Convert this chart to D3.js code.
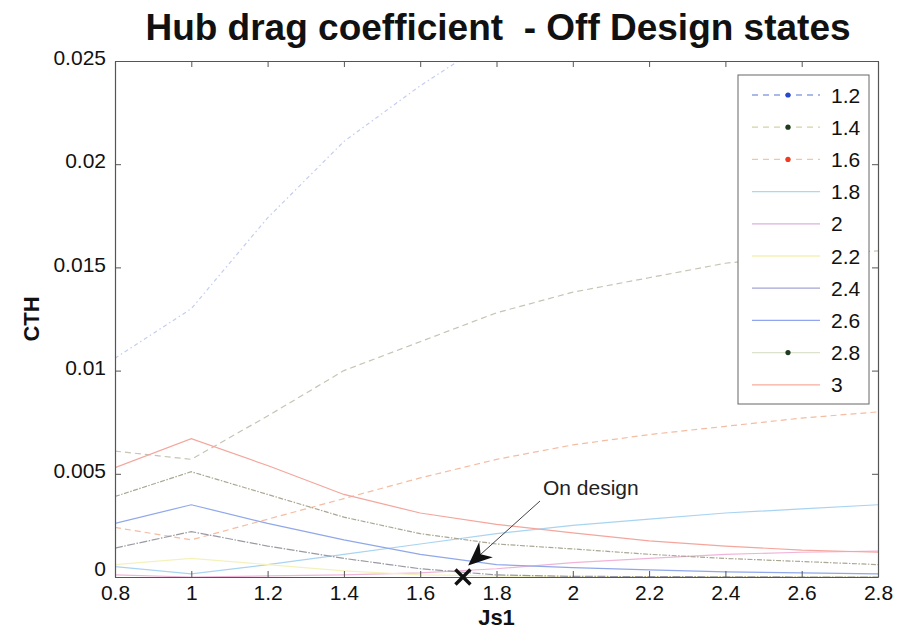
<!DOCTYPE html>
<html>
<head>
<meta charset="utf-8">
<script src="https://cdn.jsdelivr.net/npm/d3@7"></script>
<style>
  html, body { margin: 0; padding: 0; background: #fff; }
  svg { display: block; font-family: "Liberation Sans", Arial, sans-serif; }
</style>
</head>
<body>
<svg id="chart" width="899" height="641"></svg>
<script>
// Advance ratio Js1 sample points
const js1 = [0.8, 1.0, 1.2, 1.4, 1.6, 1.8, 2.0, 2.2, 2.4, 2.6, 2.8];

// Off-design state labels
const states = ["1.2", "1.4", "1.6", "1.8", "2", "2.2", "2.4", "2.6", "2.8", "3"];

// CTH per state (null = off the top of the axes)
const cth_12 = [0.0106, 0.0130, 0.0174, 0.0211, 0.0238, 0.0262, null, null, null, null, null];
const cth_14 = [0.0061, 0.0057, 0.0078, 0.0100, 0.0114, 0.0128, 0.0138, 0.0145, 0.0152, 0.0156, 0.0158];
const cth_16 = [0.0024, 0.0018, 0.0028, 0.0038, 0.0048, 0.0057, 0.0064, 0.0069, 0.0073, 0.0077, 0.0080];
const cth_18 = [0.0005, 0.00015, 0.0006, 0.0011, 0.0016, 0.0021, 0.0025, 0.0028, 0.0031, 0.0033, 0.0035];
const cth_20 = [0.0001, 0.0, 0.00005, 0.0001, 0.0002, 0.0004, 0.0007, 0.0009, 0.0011, 0.0012, 0.00125];
const cth_22 = [0.0006, 0.0009, 0.0006, 0.0003, 0.0001, 0.00005, 0.00003, 0.00002, 0.00001, 0.0, 0.0];
const cth_24 = [0.0014, 0.0022, 0.0015, 0.0009, 0.0004, 0.0001, 0.00003, 0.00002, 0.00001, 0.0, 0.0];
const cth_26 = [0.0026, 0.0035, 0.0026, 0.0018, 0.0011, 0.0006, 0.00045, 0.00035, 0.00025, 0.0002, 0.00015];
const cth_28 = [0.0039, 0.0051, 0.0040, 0.0029, 0.0021, 0.0016, 0.00136, 0.0011, 0.0009, 0.00075, 0.0006];
const cth_30 = [0.0053, 0.0067, 0.0054, 0.0040, 0.0031, 0.00255, 0.00214, 0.00175, 0.0015, 0.0013, 0.0012];

const seriesValues = [cth_12, cth_14, cth_16, cth_18, cth_20, cth_22, cth_24, cth_26, cth_28, cth_30];

// Design point
const designJs1 = [1.712];
const designCth = [0.0];

// Axis tick values
const xTicks = [0.8, 1, 1.2, 1.4, 1.6, 1.8, 2, 2.2, 2.4, 2.6, 2.8];
const yTicks = [0, 0.005, 0.01, 0.015, 0.02, 0.025];

// Line styles: plot colour, legend colour, dash pattern, marker colour
const styles = [
  { line: "#c4cdf0", key: "#8fa2e2", dash: "4,3,1.5,3", dot: "#2a48c8" },
  { line: "#c6c4b4", key: "#d4d3a6", dash: "6,4", dot: "#1e3c1e" },
  { line: "#f4bca2", key: "#f3c79a", dash: "6,4", dot: "#f23a22" },
  { line: "#a8d4f2", key: "#a8d8f4", dash: null, dot: null },
  { line: "#f0b4d8", key: "#dcb0dc", dash: null, dot: null },
  { line: "#f4f2bc", key: "#f4f0b4", dash: null, dot: null },
  { line: "#9a9aa4", key: "#a4a4d8", dash: "8,1.5,1.5,1.5", dot: null },
  { line: "#90a8ea", key: "#92a4f0", dash: null, dot: null },
  { line: "#aaa894", key: "#dde2cc", dash: "5,1.5,1.5,1.5", dot: "#1e3c1e" },
  { line: "#f4a69c", key: "#f4ad9e", dash: null, dot: null }
];

const svg = d3.select("#chart");
const plotL = 115, plotR = 878, plotT = 61, plotB = 577;

const x = d3.scaleLinear().domain([0.8, 2.8]).range([plotL, plotR]);
const y = d3.scaleLinear().domain([0, 0.025]).range([plotB, plotT]);

const fmt = v => String(+v.toFixed(3));
const axisColor = "#555";

// Clip region for the curves
const defs = svg.append("defs");
defs.append("clipPath").attr("id", "plotClip")
  .append("rect").attr("x", plotL).attr("y", plotT)
  .attr("width", plotR - plotL).attr("height", plotB - plotT);

// Curves
const line = d3.line()
  .defined(d => d[1] !== null)
  .x(d => x(d[0]))
  .y(d => y(d[1]));

const curves = svg.append("g").attr("clip-path", "url(#plotClip)");
seriesValues.forEach((vals, i) => {
  const pts = js1.map((j, k) => [j, vals[k]]);
  curves.append("path")
    .datum(pts)
    .attr("d", line)
    .attr("fill", "none")
    .attr("stroke", styles[i].line)
    .attr("stroke-width", 1.2)
    .attr("stroke-dasharray", styles[i].dash);
});

// Axes with inward ticks on all four sides
function styleAxis(g) {
  g.select(".domain").attr("stroke", axisColor).attr("stroke-width", 1.2);
  g.selectAll(".tick line").attr("stroke", axisColor).attr("stroke-width", 1);
  g.selectAll(".tick text").attr("fill", "#111")
    .style("font-size", "21px").style("font-family", "'Liberation Sans', Arial, sans-serif");
}

svg.append("g").attr("transform", `translate(0,${plotB})`)
  .call(d3.axisBottom(x).tickValues(xTicks).tickFormat(fmt).tickSizeInner(-6).tickSizeOuter(0).tickPadding(8))
  .call(styleAxis);
svg.append("g").attr("transform", `translate(0,${plotT})`)
  .call(d3.axisTop(x).tickValues(xTicks).tickFormat("").tickSizeInner(-6).tickSizeOuter(0))
  .call(styleAxis);
svg.append("g").attr("transform", `translate(${plotL},0)`)
  .call(d3.axisLeft(y).tickValues(yTicks).tickFormat(fmt).tickSizeInner(-6).tickSizeOuter(0).tickPadding(9))
  .call(styleAxis)
  .call(g => g.selectAll(".tick text").attr("dy", d => d === 0 ? "-0.05em" : "0.18em"));
svg.append("g").attr("transform", `translate(${plotR},0)`)
  .call(d3.axisRight(y).tickValues(yTicks).tickFormat("").tickSizeInner(-6).tickSizeOuter(0))
  .call(styleAxis);

// Title and axis labels
svg.append("text")
  .attr("x", 498).attr("y", 40)
  .attr("text-anchor", "middle")
  .style("white-space", "pre")
  .style("font-size", "37px").style("font-weight", "bold").attr("fill", "#111")
  .text("Hub drag coefficient  - Off Design states");

svg.append("text")
  .attr("x", x(1.8)).attr("y", 625)
  .attr("text-anchor", "middle")
  .style("font-size", "22px").style("font-weight", "bold").attr("fill", "#111")
  .text("Js1");

svg.append("text")
  .attr("transform", `translate(39,${(plotT + plotB) / 2}) rotate(-90)`)
  .attr("text-anchor", "middle")
  .style("font-size", "22px").style("font-weight", "bold").attr("fill", "#111")
  .text("CTH");

// Design point marker
const mk = svg.append("g");
designJs1.forEach((j, i) => {
  const cx = x(j), cy = y(designCth[i]), s = 7.5;
  mk.append("path")
    .attr("d", `M${cx - s},${cy - s}L${cx + s},${cy + s}M${cx - s},${cy + s}L${cx + s},${cy - s}`)
    .attr("stroke", "#111").attr("stroke-width", 3.4).attr("fill", "none");
});

// Annotation arrow
defs.append("marker")
  .attr("id", "arrowHead").attr("viewBox", "0 0 20 20")
  .attr("refX", 18).attr("refY", 10)
  .attr("markerWidth", 24).attr("markerHeight", 24)
  .attr("markerUnits", "userSpaceOnUse")
  .attr("orient", "auto")
  .append("path").attr("d", "M0,1.5 L20,10 L0,18.5 L6,10 Z").attr("fill", "#111");

const tipX = x(designJs1[0]) + 7, tipY = y(designCth[0]) - 13;
svg.append("line")
  .attr("x1", 540).attr("y1", 501).attr("x2", tipX).attr("y2", tipY)
  .attr("stroke", "#444").attr("stroke-width", 1)
  .attr("marker-end", "url(#arrowHead)");

svg.append("text")
  .attr("x", 543).attr("y", 495)
  .style("font-size", "21px").attr("fill", "#222")
  .text("On design");

// Legend
const lg = svg.append("g");
const lgX = 738, lgY = 75, lgW = 131, lgH = 329, rowH = 32.2, row0 = 95;
lg.append("rect")
  .attr("x", lgX).attr("y", lgY).attr("width", lgW).attr("height", lgH)
  .attr("fill", "#fff").attr("stroke", "#666").attr("stroke-width", 1);

states.forEach((s, i) => {
  const cy = row0 + i * rowH;
  lg.append("line")
    .attr("x1", 752).attr("x2", 820).attr("y1", cy).attr("y2", cy)
    .attr("stroke", styles[i].key).attr("stroke-width", 1.3)
    .attr("stroke-dasharray", i < 3 ? "6,5" : null);
  if (styles[i].dot) {
    lg.append("circle").attr("cx", 788).attr("cy", cy).attr("r", 2.6).attr("fill", styles[i].dot);
  }
  lg.append("text")
    .attr("x", 831).attr("y", cy + 7.5)
    .style("font-size", "21px").attr("fill", "#111")
    .text(s);
});
</script>
</body>
</html>
